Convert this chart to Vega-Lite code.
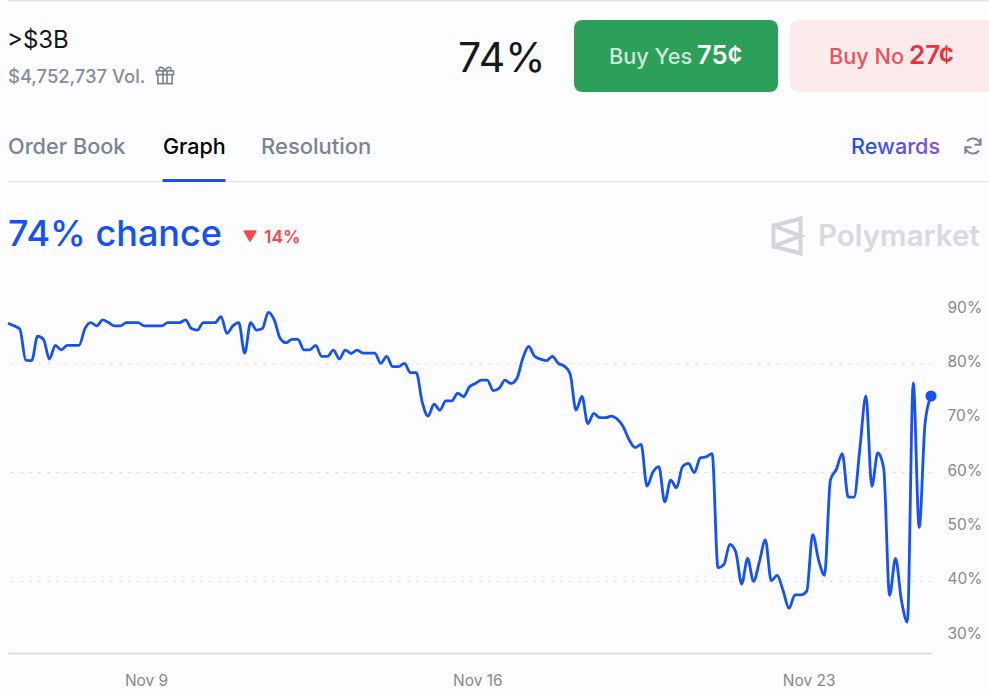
{
"$schema":"https://vega.github.io/schema/vega-lite/v6.json",
"width":923,"height":363,
"autosize":{"type":"none"},
"padding":{"left":8,"top":290,"right":58,"bottom":41},
"background":"#fdfcfe",
"config":{"font":"Inter","view":{"stroke":null},"text":{"font":"Inter","align":"left","baseline":"alphabetic"}},
"datasets":{
"prices":[
{"t":"2024-11-06T02:00:00Z","p":87.4},{"t":"2024-11-06T05:00:00Z","p":86.9},{"t":"2024-11-06T08:00:00Z","p":86.3},{"t":"2024-11-06T11:00:00Z","p":80.6},{"t":"2024-11-06T14:00:00Z","p":80.5},{"t":"2024-11-06T17:00:00Z","p":85.0},{"t":"2024-11-06T20:00:00Z","p":84.4},{"t":"2024-11-06T23:00:00Z","p":80.8},
{"t":"2024-11-07T02:00:00Z","p":83.3},{"t":"2024-11-07T05:00:00Z","p":82.5},{"t":"2024-11-07T08:00:00Z","p":83.3},{"t":"2024-11-07T11:00:00Z","p":83.3},{"t":"2024-11-07T14:00:00Z","p":83.3},{"t":"2024-11-07T17:00:00Z","p":86.4},{"t":"2024-11-07T20:00:00Z","p":87.5},{"t":"2024-11-07T23:00:00Z","p":86.9},
{"t":"2024-11-08T02:00:00Z","p":88.0},{"t":"2024-11-08T05:00:00Z","p":87.5},{"t":"2024-11-08T08:00:00Z","p":86.9},{"t":"2024-11-08T11:00:00Z","p":86.9},{"t":"2024-11-08T14:00:00Z","p":87.5},{"t":"2024-11-08T17:00:00Z","p":87.5},{"t":"2024-11-08T20:00:00Z","p":87.5},{"t":"2024-11-08T23:00:00Z","p":86.9},
{"t":"2024-11-09T02:00:00Z","p":86.9},{"t":"2024-11-09T05:00:00Z","p":86.9},{"t":"2024-11-09T08:00:00Z","p":86.9},{"t":"2024-11-09T11:00:00Z","p":87.5},{"t":"2024-11-09T14:00:00Z","p":87.5},{"t":"2024-11-09T17:00:00Z","p":87.5},{"t":"2024-11-09T20:00:00Z","p":88.0},{"t":"2024-11-09T23:00:00Z","p":86.4},
{"t":"2024-11-10T02:00:00Z","p":86.1},{"t":"2024-11-10T05:00:00Z","p":87.5},{"t":"2024-11-10T08:00:00Z","p":87.5},{"t":"2024-11-10T11:00:00Z","p":87.5},{"t":"2024-11-10T14:00:00Z","p":88.6},{"t":"2024-11-10T17:00:00Z","p":85.5},{"t":"2024-11-10T20:00:00Z","p":86.9},{"t":"2024-11-10T23:00:00Z","p":87.5},
{"t":"2024-11-11T02:00:00Z","p":81.9},{"t":"2024-11-11T05:00:00Z","p":87.5},{"t":"2024-11-11T08:00:00Z","p":86.1},{"t":"2024-11-11T11:00:00Z","p":86.4},{"t":"2024-11-11T14:00:00Z","p":89.4},{"t":"2024-11-11T17:00:00Z","p":88.0},{"t":"2024-11-11T20:00:00Z","p":84.6},{"t":"2024-11-11T23:00:00Z","p":83.8},
{"t":"2024-11-12T02:00:00Z","p":84.4},{"t":"2024-11-12T05:00:00Z","p":84.4},{"t":"2024-11-12T08:00:00Z","p":82.5},{"t":"2024-11-12T11:00:00Z","p":82.5},{"t":"2024-11-12T14:00:00Z","p":83.3},{"t":"2024-11-12T17:00:00Z","p":81.3},{"t":"2024-11-12T20:00:00Z","p":81.3},{"t":"2024-11-12T23:00:00Z","p":82.45},
{"t":"2024-11-13T02:00:00Z","p":80.8},{"t":"2024-11-13T05:00:00Z","p":82.45},{"t":"2024-11-13T08:00:00Z","p":81.8},{"t":"2024-11-13T11:00:00Z","p":82.45},{"t":"2024-11-13T14:00:00Z","p":81.9},{"t":"2024-11-13T17:00:00Z","p":81.9},{"t":"2024-11-13T20:00:00Z","p":81.9},{"t":"2024-11-13T23:00:00Z","p":80.0},
{"t":"2024-11-14T02:00:00Z","p":81.3},{"t":"2024-11-14T05:00:00Z","p":79.4},{"t":"2024-11-14T08:00:00Z","p":79.4},{"t":"2024-11-14T11:00:00Z","p":80.0},{"t":"2024-11-14T14:00:00Z","p":78.3},{"t":"2024-11-14T17:00:00Z","p":78.3},{"t":"2024-11-14T20:00:00Z","p":72.9},{"t":"2024-11-14T23:00:00Z","p":70.3},
{"t":"2024-11-15T02:00:00Z","p":72.5},{"t":"2024-11-15T05:00:00Z","p":71.4},{"t":"2024-11-15T08:00:00Z","p":73.1},{"t":"2024-11-15T11:00:00Z","p":73.1},{"t":"2024-11-15T14:00:00Z","p":74.5},{"t":"2024-11-15T17:00:00Z","p":73.9},{"t":"2024-11-15T20:00:00Z","p":75.7},{"t":"2024-11-15T23:00:00Z","p":76.3},
{"t":"2024-11-16T02:00:00Z","p":76.9},{"t":"2024-11-16T05:00:00Z","p":76.9},{"t":"2024-11-16T08:00:00Z","p":75.0},{"t":"2024-11-16T11:00:00Z","p":75.4},{"t":"2024-11-16T14:00:00Z","p":76.9},{"t":"2024-11-16T17:00:00Z","p":76.3},{"t":"2024-11-16T20:00:00Z","p":77.2},{"t":"2024-11-16T23:00:00Z","p":80.9},
{"t":"2024-11-17T02:00:00Z","p":83.1},{"t":"2024-11-17T05:00:00Z","p":81.3},{"t":"2024-11-17T08:00:00Z","p":80.8},{"t":"2024-11-17T11:00:00Z","p":80.5},{"t":"2024-11-17T14:00:00Z","p":81.3},{"t":"2024-11-17T17:00:00Z","p":80.0},{"t":"2024-11-17T20:00:00Z","p":79.5},{"t":"2024-11-17T23:00:00Z","p":78.1},
{"t":"2024-11-18T02:00:00Z","p":71.4},{"t":"2024-11-18T05:00:00Z","p":73.9},{"t":"2024-11-18T08:00:00Z","p":68.9},{"t":"2024-11-18T11:00:00Z","p":70.8},{"t":"2024-11-18T14:00:00Z","p":70.0},{"t":"2024-11-18T17:00:00Z","p":70.0},{"t":"2024-11-18T20:00:00Z","p":70.3},{"t":"2024-11-18T23:00:00Z","p":69.7},
{"t":"2024-11-19T02:00:00Z","p":68.3},{"t":"2024-11-19T05:00:00Z","p":65.9},{"t":"2024-11-19T08:00:00Z","p":64.5},{"t":"2024-11-19T11:00:00Z","p":65.1},{"t":"2024-11-19T14:00:00Z","p":57.4},{"t":"2024-11-19T17:00:00Z","p":60.0},{"t":"2024-11-19T20:00:00Z","p":61.0},{"t":"2024-11-19T23:00:00Z","p":54.5},
{"t":"2024-11-20T02:00:00Z","p":58.5},{"t":"2024-11-20T05:00:00Z","p":57.1},{"t":"2024-11-20T08:00:00Z","p":61.0},{"t":"2024-11-20T11:00:00Z","p":61.6},{"t":"2024-11-20T14:00:00Z","p":59.9},{"t":"2024-11-20T17:00:00Z","p":62.6},{"t":"2024-11-20T20:00:00Z","p":62.8},{"t":"2024-11-20T23:00:00Z","p":63.4},
{"t":"2024-11-21T02:00:00Z","p":42.4},{"t":"2024-11-21T05:00:00Z","p":43.0},{"t":"2024-11-21T08:00:00Z","p":46.7},{"t":"2024-11-21T11:00:00Z","p":45.3},{"t":"2024-11-21T14:00:00Z","p":39.4},{"t":"2024-11-21T17:00:00Z","p":44.1},{"t":"2024-11-21T20:00:00Z","p":39.9},{"t":"2024-11-21T23:00:00Z","p":43.5},
{"t":"2024-11-22T02:00:00Z","p":47.5},{"t":"2024-11-22T05:00:00Z","p":40.0},{"t":"2024-11-22T08:00:00Z","p":41.0},{"t":"2024-11-22T11:00:00Z","p":38.2},{"t":"2024-11-22T14:00:00Z","p":34.9},{"t":"2024-11-22T17:00:00Z","p":37.4},{"t":"2024-11-22T20:00:00Z","p":37.4},{"t":"2024-11-22T23:00:00Z","p":38.1},
{"t":"2024-11-23T02:00:00Z","p":48.5},{"t":"2024-11-23T05:00:00Z","p":43.8},{"t":"2024-11-23T08:00:00Z","p":41.0},{"t":"2024-11-23T11:00:00Z","p":58.5},{"t":"2024-11-23T14:00:00Z","p":60.5},{"t":"2024-11-23T17:00:00Z","p":63.4},{"t":"2024-11-23T20:00:00Z","p":55.4},{"t":"2024-11-23T23:00:00Z","p":55.4},
{"t":"2024-11-24T02:00:00Z","p":64.6},{"t":"2024-11-24T05:00:00Z","p":74.0},{"t":"2024-11-24T08:00:00Z","p":57.4},{"t":"2024-11-24T11:00:00Z","p":63.5},{"t":"2024-11-24T14:00:00Z","p":60.7},{"t":"2024-11-24T17:00:00Z","p":37.3},{"t":"2024-11-24T20:00:00Z","p":44.1},{"t":"2024-11-24T23:00:00Z","p":36.4},
{"t":"2024-11-25T02:00:00Z","p":32.4},{"t":"2024-11-25T05:00:00Z","p":76.4},{"t":"2024-11-25T08:00:00Z","p":49.8},{"t":"2024-11-25T11:00:00Z","p":69.0},{"t":"2024-11-25T14:00:00Z","p":74.0}
],
"latest":[{"t":"2024-11-25T14:00:00Z","p":74.0}]
},
"layer":[
{"data":{"name":"prices"},
 "mark":{"type":"line","interpolate":"monotone","stroke":"#1652f0","strokeWidth":2.8},
 "encoding":{
  "x":{"field":"t","type":"temporal","title":null,
   "scale":{"type":"utc","domain":[1730858400000,1732543200000],"nice":false},
   "axis":{"values":[1731110400000,1731715200000,1732320000000],"labelExpr":"utcFormat(datum.value, '%b %-d')","grid":false,"ticks":false,"domain":true,"domainColor":"#dcdde1","domainWidth":2,"labelColor":"#8a8888","labelFontSize":15.5,"labelFont":"Inter","labelPadding":27,"labelBaseline":"middle"}},
  "y":{"field":"p","type":"quantitative","title":null,
   "scale":{"domain":[26.7,93.5],"nice":false,"zero":false},
   "axis":{"orient":"right","values":[30,40,50,60,70,80,90],"labelExpr":"datum.value + '%'","domain":false,"ticks":false,"labelColor":"#8a8888","labelFontSize":15.5,"labelFont":"Inter","labelPadding":16,"labelOffset":-2,"grid":true,"gridColor":"#cfd0d5","gridDash":[2,7],"gridWidth":1,"gridOpacity":{"condition":{"test":"datum.value % 20 === 0","value":1},"value":0}}}
 }},
{"data":{"name":"latest"},
 "mark":{"type":"point","filled":true,"size":125,"fill":"#1652f0","opacity":1},
 "encoding":{"x":{"field":"t","type":"temporal"},"y":{"field":"p","type":"quantitative"}}},

{"data":{"values":[{"id":"top rule"}]},"mark":{"type":"rect","x":0,"x2":985,"y":-290,"y2":-288.5,"fill":"#e5e6ea"},"encoding":{}},
{"data":{"values":[{"id":"tab rule"}]},"mark":{"type":"rect","x":0,"x2":985,"y":-109,"y2":-107.7,"fill":"#e5e6ea"},"encoding":{}},
{"data":{"values":[{"id":"tab underline"}]},"mark":{"type":"rect","x":154.5,"x2":217.5,"y":-111,"y2":-108,"fill":"#1652f0"},"encoding":{}},
{"data":{"values":[{"id":"yes button"}]},"mark":{"type":"rect","x":566,"x2":770,"y":-270,"y2":-198,"fill":"#2c9f5b","cornerRadius":8},"encoding":{}},
{"data":{"values":[{"id":"no button"}]},"mark":{"type":"rect","x":782,"x2":1000,"y":-270,"y2":-198,"fill":"#fdebeb","cornerRadius":8},"encoding":{}},

{"data":{"values":[{"label":">$3B"}]},"mark":{"type":"text","x":-1,"y":-242,"fontSize":24,"fill":"#15181c"},"encoding":{"text":{"field":"label"}}},
{"data":{"values":[{"label":"$4,752,737 Vol."}]},"mark":{"type":"text","x":0,"y":-207,"fontSize":18.4,"fontWeight":500,"fill":"#858d9c"},"encoding":{"text":{"field":"label"}}},
{"data":{"values":[{"label":"gift icon"}]},"mark":{"type":"point","shape":"M-.42-.08H.42V.45H-.42ZM-.5-.3H.5V-.08H-.5ZM-.12-.3V.45M.12-.3V.45M0-.3C-.1-.55-.42-.6-.35-.3M0-.3C.1-.55.42-.6.35-.3","x":157,"y":-214,"size":1156,"filled":false,"stroke":"#7f8796","strokeWidth":1.7,"opacity":1},"encoding":{}},
{"data":{"values":[{"label":"74%"}]},"mark":{"type":"text","x":450,"y":-218,"fontSize":41,"fill":"#15181c"},"encoding":{"text":{"field":"label"}}},
{"data":{"values":[{"label":"Buy Yes"}]},"mark":{"type":"text","x":601,"y":-226,"fontSize":21.7,"fontWeight":500,"fill":"#cfe7d8"},"encoding":{"text":{"field":"label"}}},
{"data":{"values":[{"label":"75¢"}]},"mark":{"type":"text","x":689,"y":-226,"fontSize":25.5,"fontWeight":600,"fill":"#ffffff"},"encoding":{"text":{"field":"label"}}},
{"data":{"values":[{"label":"Buy No"}]},"mark":{"type":"text","x":821,"y":-226,"fontSize":21.7,"fontWeight":500,"fill":"#e8545f"},"encoding":{"text":{"field":"label"}}},
{"data":{"values":[{"label":"27¢"}]},"mark":{"type":"text","x":901,"y":-226,"fontSize":26,"fontWeight":600,"fill":"#e6343f"},"encoding":{"text":{"field":"label"}}},
{"data":{"values":[{"label":"Order Book"}]},"mark":{"type":"text","x":0,"y":-136,"fontSize":21.7,"fontWeight":500,"fill":"#7b8494"},"encoding":{"text":{"field":"label"}}},
{"data":{"values":[{"label":"Graph"}]},"mark":{"type":"text","x":155,"y":-136,"fontSize":21.5,"fontWeight":500,"fill":"#000000"},"encoding":{"text":{"field":"label"}}},
{"data":{"values":[{"label":"Resolution"}]},"mark":{"type":"text","x":253,"y":-136,"fontSize":22,"fontWeight":500,"fill":"#7b8494"},"encoding":{"text":{"field":"label"}}},
{"data":{"values":[{"label":"Rewards"}]},"mark":{"type":"text","x":843,"y":-136,"fontSize":21.6,"fontWeight":500,"fill":{"gradient":"linear","x1":0,"y1":0,"x2":1,"y2":0,"stops":[{"offset":0,"color":"#1652f0"},{"offset":1,"color":"#8a4fdc"}]}},"encoding":{"text":{"field":"label"}}},
{"data":{"values":[{"label":"refresh icon"}]},"mark":{"type":"point","shape":"M.45-.08A.46.46 0 0 0-.35-.28M.45-.45V-.08H.08M-.45.08A.46.46 0 0 0 .35.28M-.45.45V.08H-.08","x":965,"y":-144,"size":1156,"filled":false,"stroke":"#7f8796","strokeWidth":2,"opacity":1},"encoding":{}},
{"data":{"values":[{"label":"74% chance"}]},"mark":{"type":"text","x":0,"y":-44,"fontSize":36,"fontWeight":500,"fill":"#1652f0"},"encoding":{"text":{"field":"label"}}},
{"data":{"values":[{"label":"down"}]},"mark":{"type":"point","shape":"triangle-down","x":242,"y":-54,"size":120,"filled":true,"fill":"#f44a4a","stroke":"#f44a4a","strokeWidth":2,"strokeJoin":"round","opacity":1},"encoding":{}},
{"data":{"values":[{"label":"14%"}]},"mark":{"type":"text","x":256,"y":-47,"fontSize":17.5,"fontWeight":600,"fill":"#f44a4a"},"encoding":{"text":{"field":"label"}}},
{"data":{"values":[{"label":"logo"}]},"mark":{"type":"point","shape":"M-.39-.3L.39-.5V.5L-.39.3ZM-.39-.3L.39 0L-.39.3","x":779,"y":-54,"size":4790,"filled":false,"stroke":"#d3d4dc","strokeWidth":4,"opacity":1},"encoding":{}},
{"data":{"values":[{"label":"Polymarket"}]},"mark":{"type":"text","x":810,"y":-44,"fontSize":29.5,"fontWeight":600,"fill":"#d8d9e1"},"encoding":{"text":{"field":"label"}}}
]
}
